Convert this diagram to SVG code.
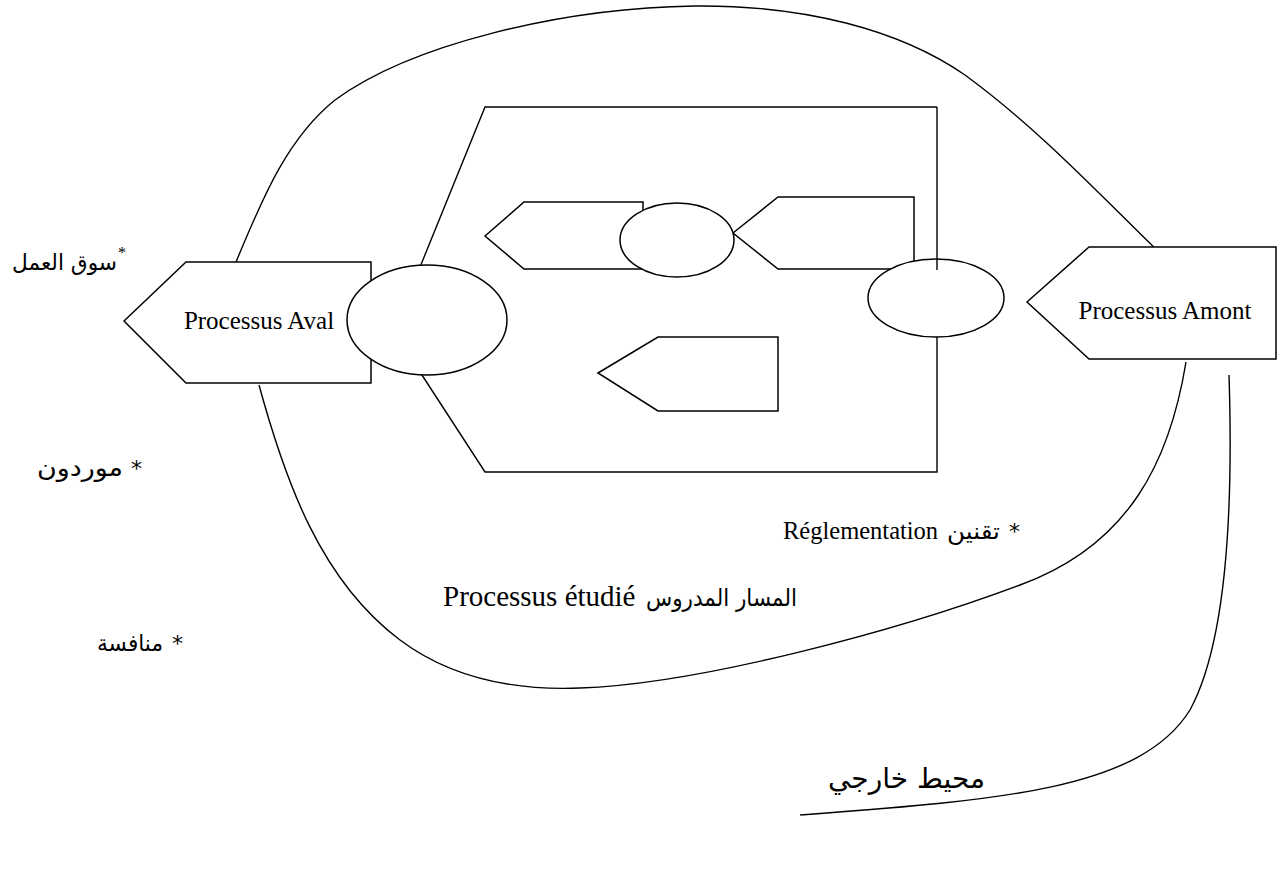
<svg xmlns="http://www.w3.org/2000/svg" width="1285" height="875" viewBox="0 0 1285 875">
  <style>
    .ln { fill: none; stroke: #000; stroke-width: 1.4; }
    .shape { fill: #fff; stroke: #000; stroke-width: 1.5; }
    .fr { font-family: "Liberation Serif", "Times New Roman", serif; fill: #000; }
    .ar { font-family: "DejaVu Sans", "Liberation Sans", sans-serif; fill: #000; }
  </style>
  <rect width="1285" height="875" fill="#fff"/>

  <!-- environment boundaries -->
  <g id="connectors">
    <path class="ln" d="M236,262 C260,205 285,140 335,100 C410,45 560,8 695,6 C805,5 900,30 965,75 C1040,130 1100,195 1163,256"/>
    <path class="ln" d="M259,385 C285,480 320,580 400,640 C460,685 530,690 580,688 C700,684 900,630 1020,585 C1130,545 1170,460 1186,362"/>
    <path class="ln" d="M1229,375 C1233,500 1228,640 1190,710 C1140,790 1000,800 800,815"/>
  </g>

  <!-- studied process frame -->
  <g id="process-frame">
    <path class="ln" d="M418,272 L485,107 L937,107"/>
    <path class="ln" d="M420,372 L485,472 L937,472 L937,337"/>
  </g>

  <g id="downstream">
    <polygon class="shape" points="124,321 186,262 371,262 371,383 186,383"/>
    <text class="fr" x="259" y="329" font-size="25" text-anchor="middle">Processus Aval</text>
  </g>

  <g id="upstream">
    <polygon class="shape" points="1027,302 1089,247 1276,247 1276,359 1089,359"/>
    <text class="fr" x="1165" y="319" font-size="25" text-anchor="middle">Processus Amont</text>
  </g>

  <g id="step-a">
    <polygon class="shape" points="485,236 524,202 643,202 643,269 524,269"/>
  </g>
  <g id="step-b">
    <polygon class="shape" points="733,233 778,197 914,197 914,269 778,269"/>
  </g>
  <g id="step-c">
    <polygon class="shape" points="598,373 658,337 778,337 778,411 658,411"/>
  </g>

  <g id="link-mid">
    <ellipse class="shape" cx="677" cy="240" rx="57" ry="37"/>
  </g>
  <g id="link-out">
    <ellipse class="shape" cx="427" cy="320" rx="80" ry="55"/>
  </g>
  <g id="link-in">
    <ellipse class="shape" cx="936" cy="298" rx="68" ry="39"/>
  </g>
  <path class="ln" d="M937,107 L937,270"/>

  <!-- environment labels -->
  <g id="labels">
    <text y="270"><tspan class="ar" x="12" font-size="22" textLength="105" lengthAdjust="spacingAndGlyphs">سوق العمل</tspan><tspan class="fr" x="118" dy="-12" font-size="16">*</tspan></text>
    <text y="476"><tspan class="ar" x="37" font-size="24" textLength="86" lengthAdjust="spacingAndGlyphs">موردون</tspan><tspan class="ar" x="131" font-size="22">*</tspan></text>
    <text y="651"><tspan class="ar" x="97" font-size="23" textLength="66" lengthAdjust="spacingAndGlyphs">منافسة</tspan><tspan class="ar" x="172" font-size="22">*</tspan></text>
    <text y="539"><tspan class="fr" x="783" font-size="24.5">Réglementation</tspan><tspan class="ar" x="947" font-size="23" textLength="53" lengthAdjust="spacingAndGlyphs">تقنين</tspan><tspan class="ar" x="1009" font-size="22">*</tspan></text>
    <text y="606"><tspan class="fr" x="443" font-size="29">Processus étudié</tspan><tspan class="ar" x="646" font-size="24" textLength="151" lengthAdjust="spacingAndGlyphs">المسار المدروس</tspan></text>
    <text class="ar" x="828" y="788" font-size="28">محيط خارجي</text>
  </g>
</svg>
